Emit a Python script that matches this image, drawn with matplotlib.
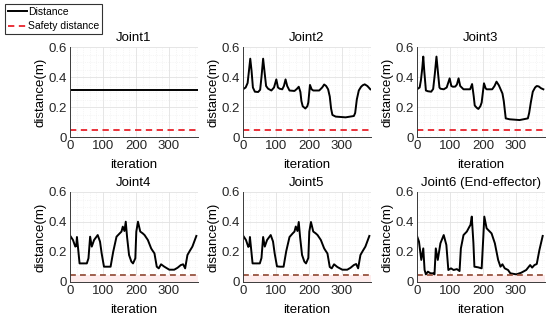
import numpy as np
import matplotlib.pyplot as plt
from matplotlib.ticker import MultipleLocator

plt.rcParams['font.family'] = ['Liberation Sans', 'DejaVu Sans']

titles = ['Joint1', 'Joint2', 'Joint3', 'Joint4', 'Joint5', 'Joint6 (End-effector)']
safety = 0.05

j1_x = [0, 388]
j1_y = [0.316, 0.316]

j2_x = [0, 8, 14, 18, 22, 26, 30, 36, 46, 52, 56, 61, 66, 70, 76, 86, 94, 101, 106, 111, 119, 124, 129, 134, 141, 156, 163, 169, 174, 177, 181, 189, 195, 198, 203, 208, 213, 231, 240, 246, 252, 258, 263, 267, 271, 281, 311, 336, 340, 345, 351, 358, 363, 369, 377, 386]
j2_y = [0.318, 0.33, 0.36, 0.44, 0.522, 0.44, 0.33, 0.302, 0.30, 0.315, 0.40, 0.522, 0.42, 0.34, 0.322, 0.31, 0.33, 0.384, 0.33, 0.322, 0.318, 0.34, 0.384, 0.34, 0.31, 0.307, 0.32, 0.335, 0.30, 0.24, 0.205, 0.19, 0.205, 0.23, 0.347, 0.318, 0.31, 0.31, 0.33, 0.35, 0.34, 0.318, 0.27, 0.19, 0.147, 0.136, 0.131, 0.14, 0.16, 0.25, 0.31, 0.335, 0.345, 0.351, 0.34, 0.318]

j3_x = [0, 8, 12, 16, 19, 22, 27, 33, 43, 49, 54, 59, 64, 68, 71, 81, 90, 99, 104, 109, 116, 121, 126, 131, 141, 161, 167, 172, 175, 181, 186, 192, 196, 203, 208, 211, 228, 235, 241, 248, 253, 259, 263, 269, 281, 311, 336, 340, 345, 351, 358, 363, 369, 376, 383]
j3_y = [0.318, 0.33, 0.38, 0.46, 0.536, 0.44, 0.31, 0.305, 0.302, 0.32, 0.42, 0.536, 0.42, 0.33, 0.322, 0.318, 0.33, 0.391, 0.34, 0.335, 0.336, 0.35, 0.391, 0.34, 0.318, 0.318, 0.353, 0.27, 0.21, 0.195, 0.187, 0.205, 0.23, 0.358, 0.325, 0.318, 0.318, 0.34, 0.369, 0.345, 0.32, 0.29, 0.24, 0.124, 0.118, 0.113, 0.124, 0.16, 0.23, 0.302, 0.33, 0.34, 0.337, 0.325, 0.318]

j4_x = [0, 9, 16, 19, 21, 24, 29, 40, 51, 56, 61, 66, 73, 84, 91, 96, 103, 113, 123, 131, 141, 151, 156, 160, 165, 169, 173, 179, 186, 191, 198, 201, 206, 213, 220, 226, 236, 246, 250, 256, 263, 269, 276, 286, 301, 316, 326, 336, 343, 349, 356, 363, 371, 383]
j4_y = [0.31, 0.28, 0.236, 0.24, 0.30, 0.236, 0.124, 0.124, 0.124, 0.158, 0.302, 0.236, 0.28, 0.313, 0.269, 0.19, 0.102, 0.102, 0.102, 0.202, 0.302, 0.325, 0.336, 0.369, 0.34, 0.402, 0.30, 0.18, 0.136, 0.124, 0.158, 0.336, 0.402, 0.336, 0.325, 0.313, 0.28, 0.224, 0.21, 0.191, 0.102, 0.091, 0.118, 0.102, 0.082, 0.082, 0.095, 0.113, 0.118, 0.091, 0.18, 0.207, 0.236, 0.307]

j5_x = [0, 9, 16, 19, 21, 24, 29, 40, 51, 56, 61, 66, 73, 84, 91, 96, 103, 113, 123, 131, 141, 151, 156, 160, 165, 169, 173, 179, 186, 191, 198, 201, 206, 213, 220, 226, 236, 246, 250, 256, 263, 269, 276, 286, 301, 316, 326, 336, 343, 349, 356, 363, 371, 383]
j5_y = [0.31, 0.28, 0.234, 0.24, 0.30, 0.234, 0.124, 0.124, 0.124, 0.16, 0.30, 0.236, 0.28, 0.313, 0.27, 0.19, 0.104, 0.102, 0.102, 0.205, 0.30, 0.325, 0.336, 0.37, 0.34, 0.40, 0.30, 0.18, 0.136, 0.124, 0.16, 0.336, 0.40, 0.336, 0.325, 0.313, 0.28, 0.224, 0.21, 0.19, 0.10, 0.091, 0.118, 0.10, 0.082, 0.082, 0.095, 0.113, 0.12, 0.091, 0.18, 0.207, 0.236, 0.307]

j6_x = [0, 6, 13, 19, 23, 27, 33, 41, 49, 53, 57, 63, 71, 81, 89, 95, 103, 111, 121, 129, 133, 141, 151, 159, 162, 166, 171, 174, 185, 196, 201, 204, 211, 226, 236, 246, 253, 259, 266, 276, 283, 301, 316, 331, 343, 349, 356, 363, 371, 381]
j6_y = [0.307, 0.269, 0.147, 0.224, 0.08, 0.051, 0.069, 0.058, 0.058, 0.051, 0.224, 0.147, 0.258, 0.313, 0.247, 0.08, 0.091, 0.08, 0.086, 0.073, 0.224, 0.313, 0.336, 0.369, 0.38, 0.436, 0.26, 0.102, 0.098, 0.091, 0.30, 0.436, 0.358, 0.324, 0.258, 0.147, 0.102, 0.118, 0.091, 0.08, 0.058, 0.051, 0.062, 0.08, 0.113, 0.096, 0.113, 0.12, 0.213, 0.307]

xs = [j1_x, j2_x, j3_x, j4_x, j5_x, j6_x]
ys = [j1_y, j2_y, j3_y, j4_y, j5_y, j6_y]

fig = plt.figure(figsize=(5.5, 3.2), dpi=100)
lefts = [70, 243, 417]
tops = [47, 192]
w, h = 128, 90

for i in range(6):
    row, col = divmod(i, 3)
    ax = fig.add_axes([lefts[col] / 550, 1 - (tops[row] + h) / 320, w / 550, h / 320])
    ax.plot(xs[i], ys[i], color='black', lw=1.4, label='Distance')
    if row == 0:
        ax.axhline(safety, color='#e8222b', lw=1.3, ls=(0, (3.5, 2.5)), label='Safety distance')
    else:
        ax.axhspan(0, safety, color='#fdecec', lw=0)
        ax.axhline(safety, color='#8e4630', lw=1.2, ls=(0, (3.5, 2.5)))
    ax.set_xlim(0, 388)
    ax.set_ylim(0, 0.6)
    ax.set_xticks([0, 100, 200, 300])
    ax.set_yticks([0, 0.2, 0.4, 0.6])
    ax.set_yticklabels(['0', '0.2', '0.4', '0.6'])
    ax.xaxis.set_minor_locator(MultipleLocator(20))
    ax.yaxis.set_minor_locator(MultipleLocator(0.05))
    ax.grid(True, which='major', color='#e2e2e2', lw=0.6)
    ax.grid(True, which='minor', color='#eeeeee', lw=0.5, ls=':')
    ax.set_axisbelow(True)
    for s in ['top', 'right']:
        ax.spines[s].set_visible(False)
    for s in ['left', 'bottom']:
        ax.spines[s].set_color('#3a3a3a')
        ax.spines[s].set_linewidth(0.7)
    ax.tick_params(which='both', length=0, labelsize=9.5, pad=2.5, colors='#262626')
    ax.set_title(titles[i], fontsize=9.5, pad=4)
    ax.set_xlabel('iteration', fontsize=9.5, labelpad=5)
    ax.set_ylabel('distance(m)', fontsize=9.5, labelpad=1)
    if i == 0:
        handles, labels = ax.get_legend_handles_labels()

leg = fig.legend(handles, labels, loc='upper left', bbox_to_anchor=(5 / 550, 1 - 4 / 320),
                 fontsize=7.5, frameon=True, fancybox=False, edgecolor='black',
                 handlelength=1.8, handletextpad=0.1, borderpad=0.3, labelspacing=0.4,
                 borderaxespad=0)
leg.get_frame().set_linewidth(0.8)

fig.savefig('out.png', dpi=100)
